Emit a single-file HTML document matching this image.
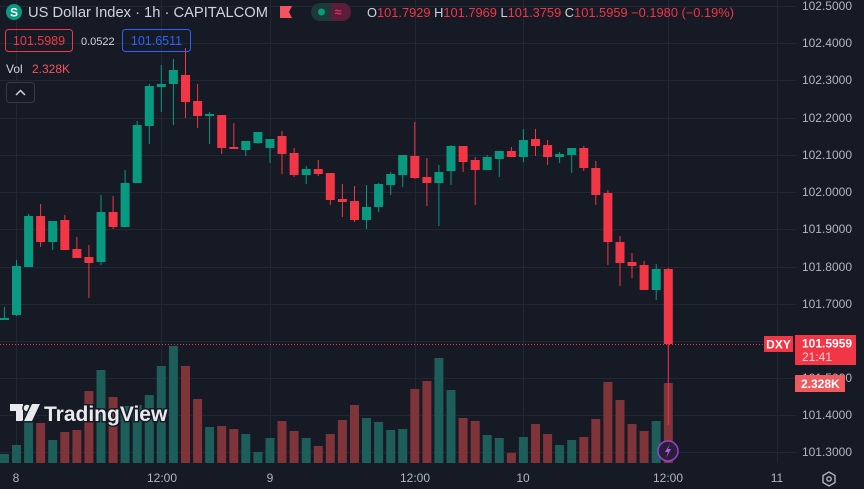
<!DOCTYPE html>
<html><head><meta charset="utf-8"><style>
html,body{margin:0;padding:0;background:#161a25;width:864px;height:489px;overflow:hidden}
svg{display:block}
text{font-family:"Liberation Sans",sans-serif}
</style></head><body>
<svg width="864" height="489" xmlns="http://www.w3.org/2000/svg">
<rect width="864" height="489" fill="#161a25"/>
<g stroke="#232733" stroke-width="1">
<line x1="0" y1="6.5" x2="796" y2="6.5"/><line x1="0" y1="43.5" x2="796" y2="43.5"/><line x1="0" y1="80.5" x2="796" y2="80.5"/><line x1="0" y1="118.5" x2="796" y2="118.5"/><line x1="0" y1="155.5" x2="796" y2="155.5"/><line x1="0" y1="192.5" x2="796" y2="192.5"/><line x1="0" y1="229.5" x2="796" y2="229.5"/><line x1="0" y1="267.5" x2="796" y2="267.5"/><line x1="0" y1="304.5" x2="796" y2="304.5"/><line x1="0" y1="341.5" x2="796" y2="341.5"/><line x1="0" y1="378.5" x2="796" y2="378.5"/><line x1="0" y1="415.5" x2="796" y2="415.5"/><line x1="0" y1="452.5" x2="796" y2="452.5"/>
<line x1="16.5" y1="0" x2="16.5" y2="463"/><line x1="161.5" y1="0" x2="161.5" y2="463"/><line x1="270.5" y1="0" x2="270.5" y2="463"/><line x1="415.5" y1="0" x2="415.5" y2="463"/><line x1="523.5" y1="0" x2="523.5" y2="463"/><line x1="668.5" y1="0" x2="668.5" y2="463"/><line x1="777.5" y1="0" x2="777.5" y2="463"/>
</g>
<g>
<rect x="0" y="454" width="9" height="9" fill="#1e5e5a"/>
<rect x="12" y="445" width="9" height="18" fill="#1e5e5a"/>
<rect x="24.1" y="407" width="9" height="56" fill="#1e5e5a"/>
<rect x="36.1" y="423" width="9" height="40" fill="#7f3439"/>
<rect x="48.2" y="440" width="9" height="23" fill="#1e5e5a"/>
<rect x="60.3" y="432" width="9" height="31" fill="#7f3439"/>
<rect x="72.4" y="430" width="9" height="33" fill="#7f3439"/>
<rect x="84.4" y="391" width="9" height="72" fill="#7f3439"/>
<rect x="96.5" y="370" width="9" height="93" fill="#1e5e5a"/>
<rect x="108.6" y="397" width="9" height="66" fill="#7f3439"/>
<rect x="120.6" y="406" width="9" height="57" fill="#1e5e5a"/>
<rect x="132.7" y="405" width="9" height="58" fill="#1e5e5a"/>
<rect x="144.8" y="395" width="9" height="68" fill="#1e5e5a"/>
<rect x="156.8" y="366" width="9" height="97" fill="#1e5e5a"/>
<rect x="168.9" y="346" width="9" height="117" fill="#1e5e5a"/>
<rect x="181" y="366" width="9" height="97" fill="#7f3439"/>
<rect x="193.1" y="399" width="9" height="64" fill="#7f3439"/>
<rect x="205.1" y="427" width="9" height="36" fill="#1e5e5a"/>
<rect x="217.2" y="426" width="9" height="37" fill="#7f3439"/>
<rect x="229.3" y="429" width="9" height="34" fill="#7f3439"/>
<rect x="241.3" y="434" width="9" height="29" fill="#1e5e5a"/>
<rect x="253.4" y="452" width="9" height="11" fill="#1e5e5a"/>
<rect x="265.5" y="438" width="9" height="25" fill="#1e5e5a"/>
<rect x="277.5" y="421" width="9" height="42" fill="#7f3439"/>
<rect x="289.6" y="431" width="9" height="32" fill="#7f3439"/>
<rect x="301.7" y="438" width="9" height="25" fill="#1e5e5a"/>
<rect x="313.8" y="446" width="9" height="17" fill="#7f3439"/>
<rect x="325.8" y="434" width="9" height="29" fill="#7f3439"/>
<rect x="337.9" y="420" width="9" height="43" fill="#7f3439"/>
<rect x="350" y="405" width="9" height="58" fill="#7f3439"/>
<rect x="362" y="418" width="9" height="45" fill="#1e5e5a"/>
<rect x="374.1" y="422" width="9" height="41" fill="#1e5e5a"/>
<rect x="386.2" y="430" width="9" height="33" fill="#1e5e5a"/>
<rect x="398.2" y="429" width="9" height="34" fill="#1e5e5a"/>
<rect x="410.3" y="389" width="9" height="74" fill="#7f3439"/>
<rect x="422.4" y="381" width="9" height="82" fill="#7f3439"/>
<rect x="434.4" y="358" width="9" height="105" fill="#1e5e5a"/>
<rect x="446.5" y="390" width="9" height="73" fill="#1e5e5a"/>
<rect x="458.6" y="418" width="9" height="45" fill="#7f3439"/>
<rect x="470.7" y="421" width="9" height="42" fill="#7f3439"/>
<rect x="482.7" y="435" width="9" height="28" fill="#1e5e5a"/>
<rect x="494.8" y="438" width="9" height="25" fill="#1e5e5a"/>
<rect x="506.9" y="453" width="9" height="10" fill="#7f3439"/>
<rect x="518.9" y="437" width="9" height="26" fill="#1e5e5a"/>
<rect x="531" y="424" width="9" height="39" fill="#7f3439"/>
<rect x="543.1" y="434" width="9" height="29" fill="#7f3439"/>
<rect x="555.1" y="445" width="9" height="18" fill="#1e5e5a"/>
<rect x="567.2" y="440" width="9" height="23" fill="#1e5e5a"/>
<rect x="579.3" y="437" width="9" height="26" fill="#7f3439"/>
<rect x="591.3" y="419" width="9" height="44" fill="#7f3439"/>
<rect x="603.4" y="382" width="9" height="81" fill="#7f3439"/>
<rect x="615.5" y="400" width="9" height="63" fill="#7f3439"/>
<rect x="627.5" y="424" width="9" height="39" fill="#7f3439"/>
<rect x="639.6" y="431" width="9" height="32" fill="#7f3439"/>
<rect x="651.7" y="421" width="9" height="42" fill="#1e5e5a"/>
<rect x="663.8" y="383" width="9" height="80" fill="#7f3439"/>
</g>
<line x1="0" y1="344.5" x2="796" y2="344.5" stroke="#f23645" stroke-width="1" stroke-dasharray="1,2"/>
<g>
<g fill="#089981" stroke="#089981">
<line x1="4.4" y1="307" x2="4.4" y2="320"/><rect x="0" y="318" width="9" height="2" stroke="none"/>
<line x1="16.5" y1="260" x2="16.5" y2="316"/><rect x="12" y="266" width="9" height="49" stroke="none"/>
<line x1="28.6" y1="214" x2="28.6" y2="267"/><rect x="24.1" y="216" width="9" height="51" stroke="none"/>
<line x1="52.7" y1="221" x2="52.7" y2="250"/><rect x="48.2" y="221" width="9" height="21" stroke="none"/>
<line x1="101" y1="195" x2="101" y2="265"/><rect x="96.5" y="212" width="9" height="50" stroke="none"/>
<line x1="125.1" y1="170" x2="125.1" y2="227"/><rect x="120.6" y="183" width="9" height="44" stroke="none"/>
<line x1="137.2" y1="121" x2="137.2" y2="183"/><rect x="132.7" y="125" width="9" height="58" stroke="none"/>
<line x1="149.3" y1="84" x2="149.3" y2="144"/><rect x="144.8" y="86" width="9" height="40" stroke="none"/>
<line x1="161.3" y1="65" x2="161.3" y2="112"/><rect x="156.8" y="84" width="9" height="3" stroke="none"/>
<line x1="173.4" y1="59" x2="173.4" y2="125"/><rect x="168.9" y="70" width="9" height="14" stroke="none"/>
<line x1="209.6" y1="112" x2="209.6" y2="144"/><rect x="205.1" y="114" width="9" height="2" stroke="none"/>
<line x1="245.8" y1="141" x2="245.8" y2="156"/><rect x="241.3" y="141" width="9" height="9" stroke="none"/>
<line x1="257.9" y1="132" x2="257.9" y2="144"/><rect x="253.4" y="132" width="9" height="11" stroke="none"/>
<line x1="270" y1="139" x2="270" y2="163"/><rect x="265.5" y="139" width="9" height="9" stroke="none"/>
<line x1="306.2" y1="166" x2="306.2" y2="184"/><rect x="301.7" y="169" width="9" height="6" stroke="none"/>
<line x1="366.5" y1="185" x2="366.5" y2="229"/><rect x="362" y="207" width="9" height="13" stroke="none"/>
<line x1="378.6" y1="183" x2="378.6" y2="212"/><rect x="374.1" y="184" width="9" height="23" stroke="none"/>
<line x1="390.7" y1="172" x2="390.7" y2="195"/><rect x="386.2" y="174" width="9" height="11" stroke="none"/>
<line x1="402.7" y1="155" x2="402.7" y2="187"/><rect x="398.2" y="155" width="9" height="20" stroke="none"/>
<line x1="438.9" y1="165" x2="438.9" y2="226"/><rect x="434.4" y="172" width="9" height="11" stroke="none"/>
<line x1="451" y1="145" x2="451" y2="185"/><rect x="446.5" y="146" width="9" height="25" stroke="none"/>
<line x1="487.2" y1="155" x2="487.2" y2="170"/><rect x="482.7" y="157" width="9" height="13" stroke="none"/>
<line x1="499.3" y1="151" x2="499.3" y2="177"/><rect x="494.8" y="151" width="9" height="8" stroke="none"/>
<line x1="523.4" y1="129" x2="523.4" y2="162"/><rect x="518.9" y="140" width="9" height="17" stroke="none"/>
<line x1="559.6" y1="152" x2="559.6" y2="163"/><rect x="555.1" y="154" width="9" height="3" stroke="none"/>
<line x1="571.7" y1="148" x2="571.7" y2="173"/><rect x="567.2" y="148" width="9" height="7" stroke="none"/>
<line x1="656.2" y1="264" x2="656.2" y2="300"/><rect x="651.7" y="269" width="9" height="21" stroke="none"/>
</g>
<g fill="#f23645" stroke="#f23645">
<line x1="40.6" y1="204" x2="40.6" y2="247"/><rect x="36.1" y="216" width="9" height="26" stroke="none"/>
<line x1="64.8" y1="215" x2="64.8" y2="250"/><rect x="60.3" y="220" width="9" height="30" stroke="none"/>
<line x1="76.9" y1="237" x2="76.9" y2="258"/><rect x="72.4" y="249" width="9" height="9" stroke="none"/>
<line x1="88.9" y1="245" x2="88.9" y2="298"/><rect x="84.4" y="257" width="9" height="6" stroke="none"/>
<line x1="113.1" y1="196" x2="113.1" y2="229"/><rect x="108.6" y="212" width="9" height="15" stroke="none"/>
<line x1="185.5" y1="48" x2="185.5" y2="118"/><rect x="181" y="75" width="9" height="27" stroke="none"/>
<line x1="197.6" y1="84" x2="197.6" y2="128"/><rect x="193.1" y="101" width="9" height="15" stroke="none"/>
<line x1="221.7" y1="115" x2="221.7" y2="154"/><rect x="217.2" y="115" width="9" height="33" stroke="none"/>
<line x1="233.8" y1="123" x2="233.8" y2="149"/><rect x="229.3" y="147" width="9" height="2" stroke="none"/>
<line x1="282" y1="131" x2="282" y2="174"/><rect x="277.5" y="136" width="9" height="18" stroke="none"/>
<line x1="294.1" y1="148" x2="294.1" y2="177"/><rect x="289.6" y="153" width="9" height="22" stroke="none"/>
<line x1="318.3" y1="160" x2="318.3" y2="176"/><rect x="313.8" y="169" width="9" height="5" stroke="none"/>
<line x1="330.3" y1="173" x2="330.3" y2="205"/><rect x="325.8" y="173" width="9" height="27" stroke="none"/>
<line x1="342.4" y1="184" x2="342.4" y2="217"/><rect x="337.9" y="199" width="9" height="3" stroke="none"/>
<line x1="354.5" y1="186" x2="354.5" y2="222"/><rect x="350" y="201" width="9" height="19" stroke="none"/>
<line x1="414.8" y1="122" x2="414.8" y2="179"/><rect x="410.3" y="156" width="9" height="22" stroke="none"/>
<line x1="426.9" y1="158" x2="426.9" y2="206"/><rect x="422.4" y="177" width="9" height="6" stroke="none"/>
<line x1="463.1" y1="146" x2="463.1" y2="172"/><rect x="458.6" y="146" width="9" height="16" stroke="none"/>
<line x1="475.2" y1="157" x2="475.2" y2="205"/><rect x="470.7" y="160" width="9" height="10" stroke="none"/>
<line x1="511.4" y1="147" x2="511.4" y2="157"/><rect x="506.9" y="151" width="9" height="6" stroke="none"/>
<line x1="535.5" y1="129" x2="535.5" y2="156"/><rect x="531" y="139" width="9" height="7" stroke="none"/>
<line x1="547.6" y1="140" x2="547.6" y2="165"/><rect x="543.1" y="145" width="9" height="12" stroke="none"/>
<line x1="583.8" y1="146" x2="583.8" y2="171"/><rect x="579.3" y="148" width="9" height="20" stroke="none"/>
<line x1="595.8" y1="161" x2="595.8" y2="205"/><rect x="591.3" y="168" width="9" height="27" stroke="none"/>
<line x1="607.9" y1="190" x2="607.9" y2="265"/><rect x="603.4" y="193" width="9" height="49" stroke="none"/>
<line x1="620" y1="236" x2="620" y2="286"/><rect x="615.5" y="242" width="9" height="21" stroke="none"/>
<line x1="632" y1="253" x2="632" y2="278"/><rect x="627.5" y="262" width="9" height="4" stroke="none"/>
<line x1="644.1" y1="261" x2="644.1" y2="290"/><rect x="639.6" y="265" width="9" height="25" stroke="none"/>
<line x1="668.3" y1="268" x2="668.3" y2="425"/><rect x="663.8" y="269" width="9" height="75" stroke="none"/>
</g>
</g>
<g fill="#b2b5be" font-size="12" text-anchor="end">
<text x="852" y="10">102.5000</text><text x="852" y="47">102.4000</text><text x="852" y="84">102.3000</text><text x="852" y="122">102.2000</text><text x="852" y="159">102.1000</text><text x="852" y="196">102.0000</text><text x="852" y="233">101.9000</text><text x="852" y="271">101.8000</text><text x="852" y="308">101.7000</text><text x="852" y="382">101.5000</text><text x="852" y="419">101.4000</text><text x="852" y="456">101.3000</text>
</g>
<rect x="764" y="336" width="29" height="16" fill="#f23645"/>
<text x="778.5" y="348.5" fill="#fff" font-size="12" font-weight="bold" text-anchor="middle">DXY</text>
<rect x="795" y="335" width="61" height="30" fill="#f23645"/>
<text x="802" y="347.5" fill="#fff" font-size="12" font-weight="bold">101.5959</text>
<text x="802" y="361" fill="#fcd3d6" font-size="12">21:41</text>
<rect x="795" y="375" width="50" height="17" fill="#f05a5f"/>
<text x="801" y="388" fill="#fff" font-size="12" font-weight="bold">2.328K</text>
<g fill="#b2b5be" font-size="12" text-anchor="middle">
<text x="16" y="482">8</text><text x="162" y="482">12:00</text><text x="270" y="482">9</text><text x="415" y="482">12:00</text><text x="523" y="482">10</text><text x="668" y="482">12:00</text><text x="777" y="482">11</text>
</g>
<polygon points="829,472 835,475.5 835,482.5 829,486 823,482.5 823,475.5" fill="none" stroke="#b2b5be" stroke-width="1.4"/>
<circle cx="829" cy="479" r="2.2" fill="none" stroke="#b2b5be" stroke-width="1.4"/>
<circle cx="668" cy="451" r="10" fill="#2a1f3a" stroke="#9c3fcf" stroke-width="1.5"/>
<path d="M670,444 L665,452 L668,452 L666,458 L671,449 L668,449 Z" fill="#b35ae0"/>
<g fill="#e9eaed" stroke="#161a25" stroke-width="3" paint-order="stroke">
<path d="M10,404 H23 V421 H16 V411 H10 Z"/>
<circle cx="27" cy="408" r="3.3"/>
<path d="M32,404 H40 L32,421 H24 Z"/>
<text x="44" y="421" font-size="21" font-weight="bold">TradingView</text>
</g>
<circle cx="14" cy="12" r="8" fill="#089981"/>
<text x="14" y="16.5" fill="#fff" font-size="12" font-weight="bold" text-anchor="middle">S</text>
<text x="28" y="17" fill="#d1d4dc" font-size="15" textLength="240" lengthAdjust="spacingAndGlyphs">US Dollar Index · 1h · CAPITALCOM</text>
<path d="M280,6 H292 L289,12 L292,18 H280 Z" fill="#f7525f"/>
<rect x="311" y="3" width="40" height="18" rx="9" fill="#1c3a37"/>
<path d="M331,3 H342 A9,9 0 0 1 342,21 H331 Z" fill="#5c1d3a"/>
<circle cx="321.5" cy="12" r="3.5" fill="#089981"/>
<text x="338" y="16" fill="#e0306a" font-size="12" font-weight="bold" text-anchor="middle">≈</text>
<text x="367" y="17" font-size="12.5" textLength="367" lengthAdjust="spacingAndGlyphs"><tspan fill="#d1d4dc">O</tspan><tspan fill="#f23645">101.7929 </tspan><tspan fill="#d1d4dc">H</tspan><tspan fill="#f23645">101.7969 </tspan><tspan fill="#d1d4dc">L</tspan><tspan fill="#f23645">101.3759 </tspan><tspan fill="#d1d4dc">C</tspan><tspan fill="#f23645">101.5959  −0.1980 (−0.19%)</tspan></text>
<rect x="5.5" y="29.5" width="67" height="22" rx="3" fill="none" stroke="#f23645"/>
<text x="39" y="45" fill="#f23645" font-size="12.5" text-anchor="middle">101.5989</text>
<text x="81" y="45" fill="#d1d4dc" font-size="11">0.0522</text>
<rect x="122.5" y="29.5" width="68" height="22" rx="3" fill="none" stroke="#2962ff"/>
<text x="156.5" y="45" fill="#2962ff" font-size="12.5" text-anchor="middle">101.6511</text>
<text x="6" y="73" fill="#d1d4dc" font-size="12">Vol</text>
<text x="32" y="73" fill="#f7525f" font-size="12">2.328K</text>
<rect x="6.5" y="82.5" width="28" height="20" rx="3" fill="#161a25" stroke="#363a45"/>
<path d="M16,95 L20.5,90.5 L25,95" fill="none" stroke="#d1d4dc" stroke-width="1.5"/>
</svg>
</body></html>
